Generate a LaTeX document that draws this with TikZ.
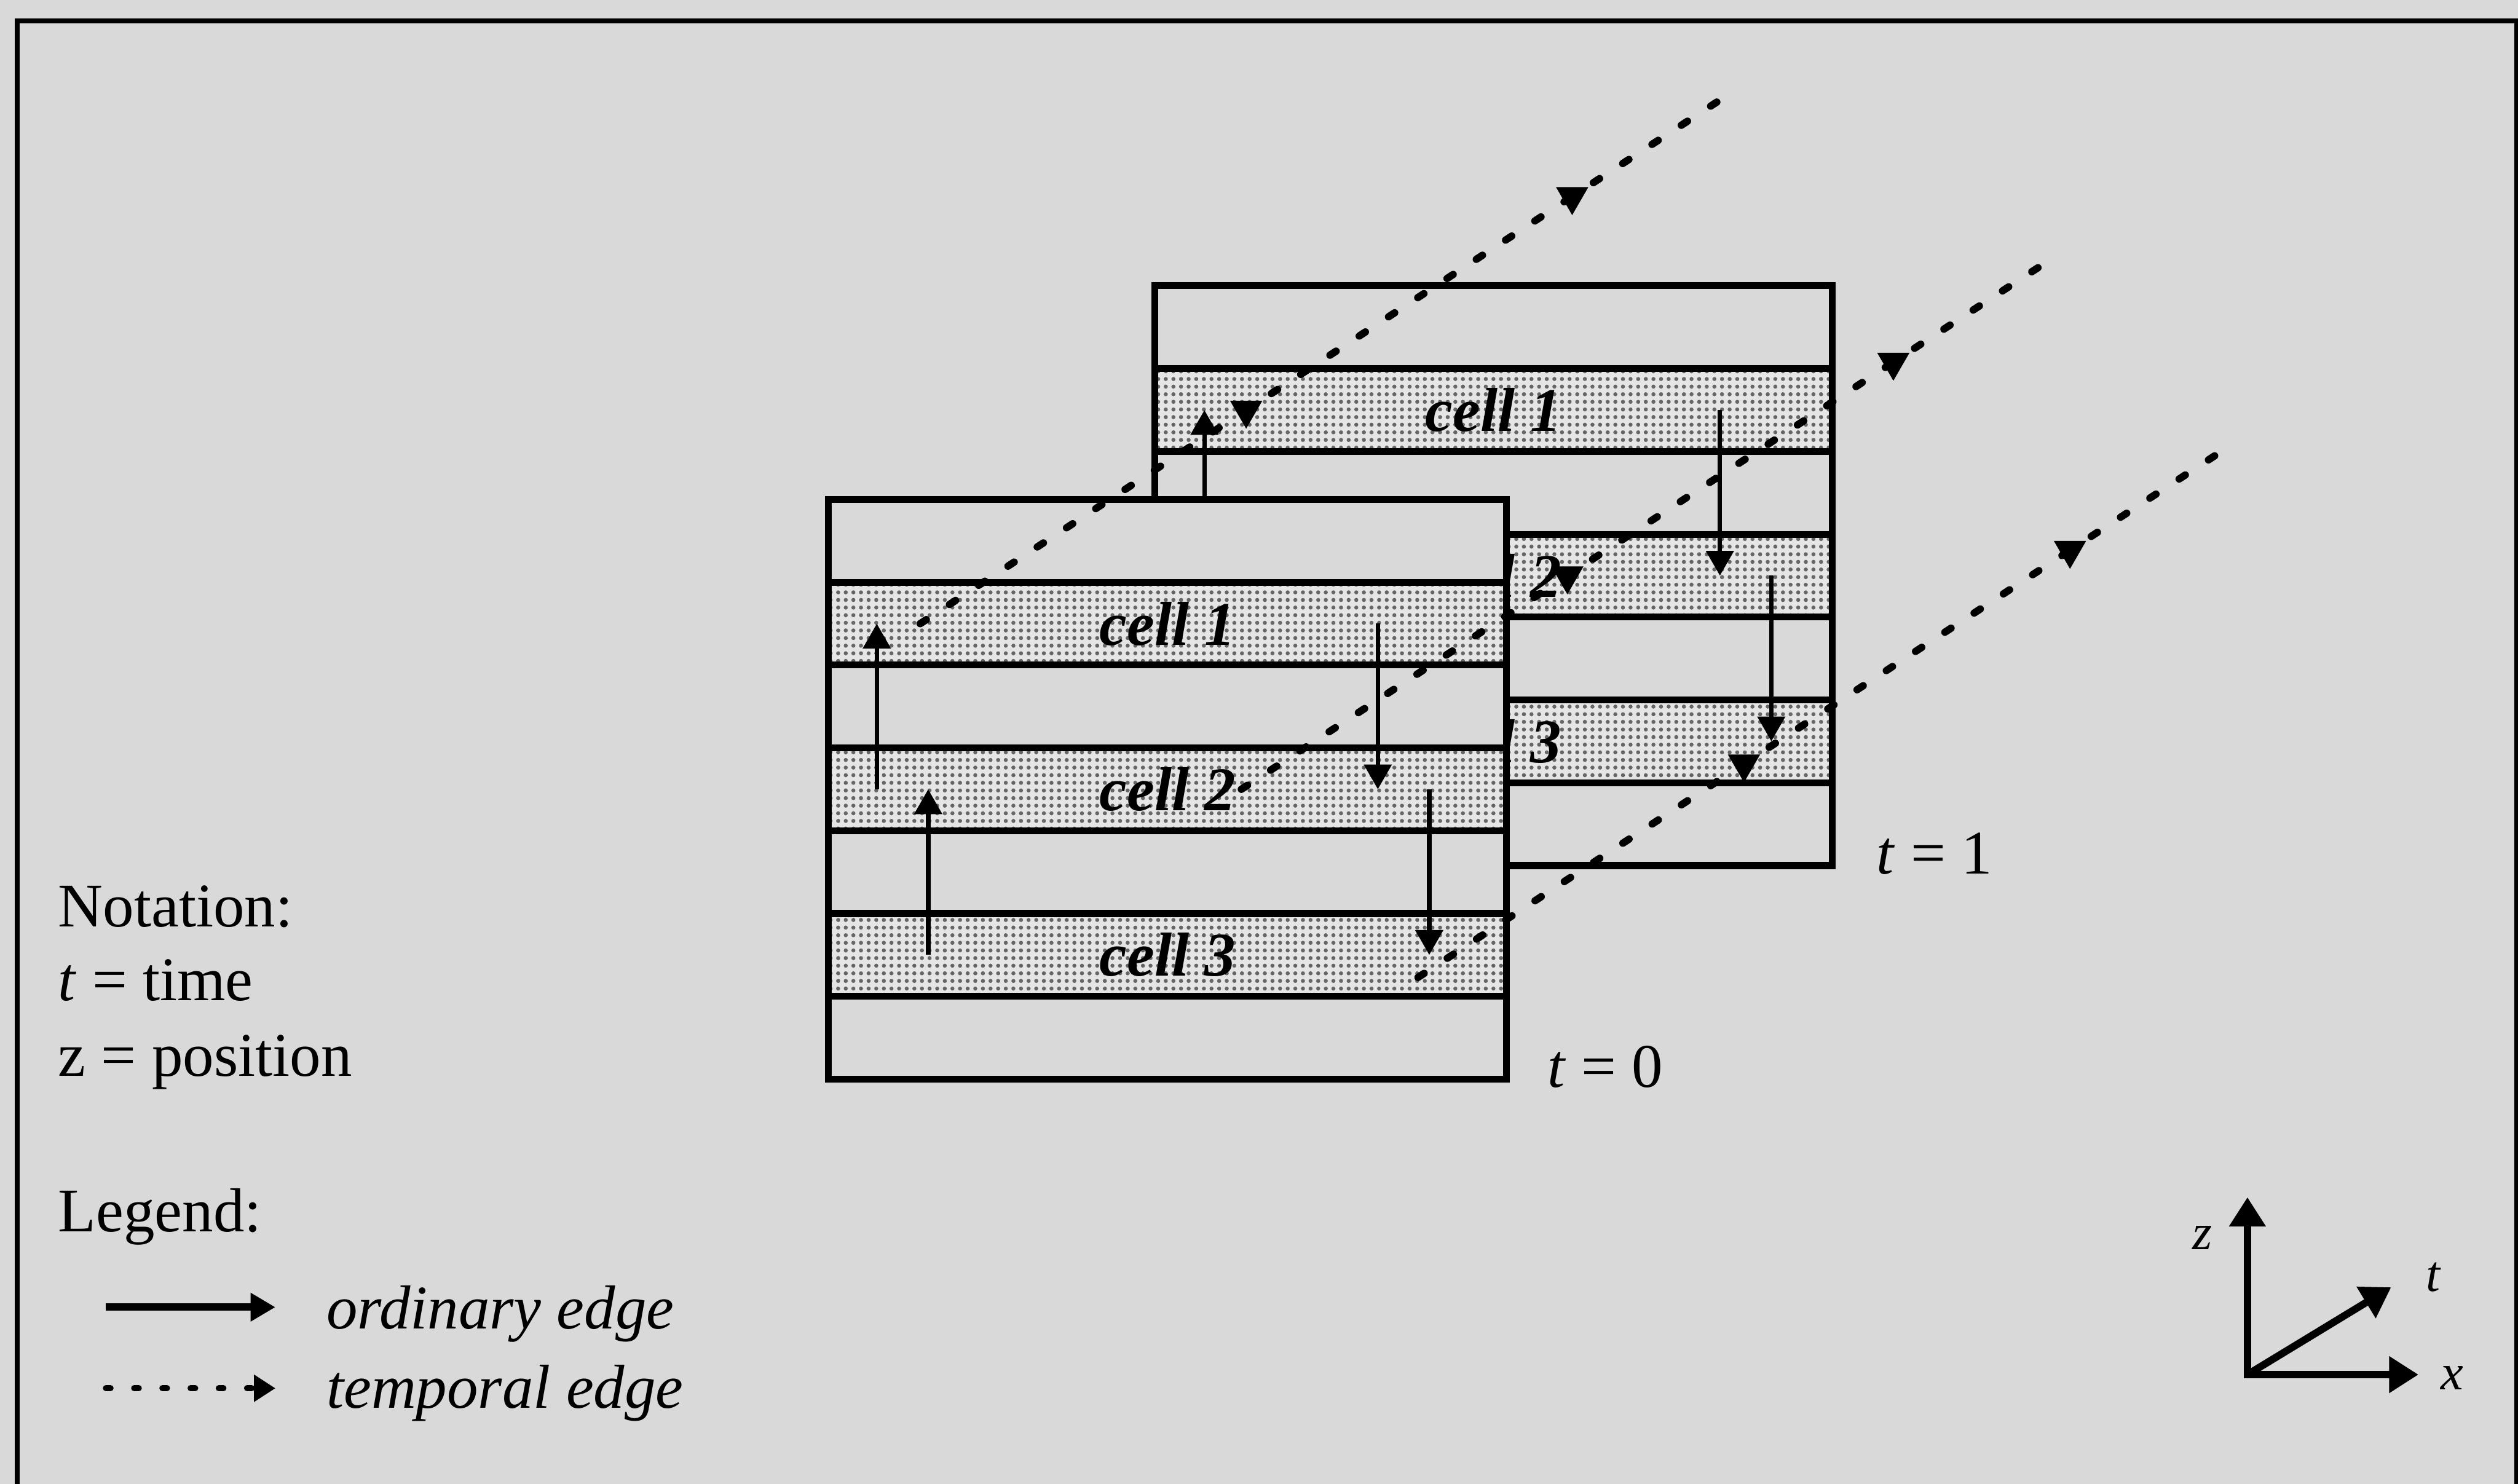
\documentclass[tikz,border=0pt]{standalone}
\usepackage{fontspec}
\setmainfont{Liberation Serif}
\usetikzlibrary{positioning, arrows.meta, shapes.geometric, patterns.meta}

\definecolor{paper}{gray}{0.85}
\definecolor{cellbase}{gray}{0.90}

\begin{document}
\begin{tikzpicture}[
    font=\fontsize{11}{13.2}\selectfont,
    strip/.style={
        rectangle,
        draw,
        line width=1.2pt,
        minimum width=4.22cm,
        minimum height=5.157mm,
        inner sep=0pt,
        outer sep=0pt
    },
    blank/.style={
        strip,
        fill=paper
    },
    cell/.style={
        strip,
        preaction={fill=cellbase},
        pattern={Dots[distance=1.35pt, radius=0.36pt]},
        pattern color=black!60,
        font=\fontsize{11}{13.2}\selectfont\bfseries\itshape
    },
    txt/.style={
        anchor=base west,
        inner sep=0pt
    },
    ordinary/.style={
        -{Triangle[length=4.4pt, width=4.8pt]},
        line width=0.8pt
    },
    temporal/.style={
        line width=1.3pt,
        line cap=round,
        dash pattern=on 1.3pt off 4.9pt
    },
    tmark/.style={
        regular polygon,
        regular polygon sides=3,
        shape border rotate=180,
        fill=black,
        inner sep=0pt,
        minimum size=6.6pt
    },
    axis/.style={
        line width=1.3pt
    },
    axislabel/.style={
        inner sep=0pt,
        font=\fontsize{9}{10}\selectfont\itshape
    }
]

\useasboundingbox (0,0) rectangle (15.68,9.24);
\fill[paper] (0,0) rectangle (15.68,9.24);
\draw[line width=0.85pt] (0.107,-0.5) rectangle (15.67,9.11);

% ------------------------------------------------------------------
% TIME STEP t = 1 (BACK)
% ------------------------------------------------------------------

\node[blank] (top1) at (9.30,7.202) {};
\node[cell, below=0pt of top1] (c1t1) {cell 1};
\node[blank, below=0pt of c1t1] (gapa1) {};
\node[cell, below=0pt of gapa1] (c2t1) {cell 2};
\node[blank, below=0pt of c2t1] (gapb1) {};
\node[cell, below=0pt of gapb1] (c3t1) {cell 3};
\node[blank, below=0pt of c3t1] (bot1) {};

\draw[ordinary] ([xshift=-18.0mm]c2t1.center) -- ([xshift=-18.0mm]c1t1.center);
\draw[ordinary] ([xshift=-14.8mm]c3t1.center) -- ([xshift=-14.8mm]c2t1.center);
\draw[ordinary] ([xshift=14.1mm]c1t1.center) -- ([xshift=14.1mm]c2t1.center);
\draw[ordinary] ([xshift=17.3mm]c2t1.center) -- ([xshift=17.3mm]c3t1.center);

\node[txt] (lbl1) at ([shift={(0.27,-0.05)}]bot1.south east) {\textit{t} = 1};

% ------------------------------------------------------------------
% TIME STEP t = 0 (FRONT)
% ------------------------------------------------------------------

\node[blank] (top0) at (7.27,5.872) {};
\node[cell, below=0pt of top0] (c1t0) {cell 1};
\node[blank, below=0pt of c1t0] (gapa0) {};
\node[cell, below=0pt of gapa0] (c2t0) {cell 2};
\node[blank, below=0pt of c2t0] (gapb0) {};
\node[cell, below=0pt of gapb0] (c3t0) {cell 3};
\node[blank, below=0pt of c3t0] (bot0) {};

\draw[ordinary] ([xshift=-18.1mm]c2t0.center) -- ([xshift=-18.1mm]c1t0.center);
\draw[ordinary] ([xshift=-14.9mm]c3t0.center) -- ([xshift=-14.9mm]c2t0.center);
\draw[ordinary] ([xshift=13.1mm]c1t0.center) -- ([xshift=13.1mm]c2t0.center);
\draw[ordinary] ([xshift=16.3mm]c2t0.center) -- ([xshift=16.3mm]c3t0.center);

\node[txt] (lbl0) at ([shift={(0.25,-0.05)}]bot0.south east) {\textit{t} = 0};

% ------------------------------------------------------------------
% TEMPORAL EDGES
% ------------------------------------------------------------------

\coordinate (c1t2) at ([shift={(2.03,1.33)}]c1t1.center);
\coordinate (c2t2) at ([shift={(2.03,1.33)}]c2t1.center);
\coordinate (c3t2) at ([shift={(2.03,1.33)}]c3t1.center);

\draw[temporal] ([xshift=-15.4mm]c1t0.center) -- ([xshift=-15.4mm]c1t1.center) node[tmark] {}
    -- ([xshift=-15.4mm]c1t2) node[tmark] {} -- ([shift={(-0.59,0.62)}]c1t2);
\draw[temporal] ([xshift=4.6mm]c2t0.center) -- ([xshift=4.6mm]c2t1.center) node[tmark] {}
    -- ([xshift=4.6mm]c2t2) node[tmark] {} -- ([shift={(1.41,0.62)}]c2t2);
\draw[temporal] ([shift={(1.56,-0.14)}]c3t0.center) -- ([shift={(1.56,-0.14)}]c3t1.center) node[tmark] {}
    -- ([shift={(1.56,-0.14)}]c3t2) node[tmark] {} -- ([shift={(2.51,0.48)}]c3t2);

% ------------------------------------------------------------------
% NOTATION AND LEGEND
% ------------------------------------------------------------------

\node[txt] (notation) at (0.356,3.47) {Notation:};
\node[txt] (tdef) at (0.356,3.01) {\textit{t} = time};
\node[txt] (zdef) at (0.356,2.54) {z = position};
\node[txt] (legend) at (0.356,1.57) {Legend:};

\coordinate (ordA) at (0.66,1.10);
\coordinate (ordB) at (1.715,1.10);
\coordinate (tmpA) at (0.66,0.595);
\coordinate (tmpB) at (1.715,0.595);

\draw[ordinary, line width=1.3pt] (ordA) -- (ordB);
\draw[temporal, line width=1.1pt, dash pattern=on 0.8pt off 4.2pt,
      -{Triangle[length=3.8pt, width=4.6pt]}] (tmpA) -- (tmpB);

\node[txt, font=\fontsize{11}{13.2}\selectfont\itshape] (ordtext) at (2.026,0.965) {ordinary edge};
\node[txt, font=\fontsize{11}{13.2}\selectfont\itshape] (tmptext) at (2.026,0.47) {temporal edge};

% ------------------------------------------------------------------
% AXES
% ------------------------------------------------------------------

\coordinate (origin) at (13.995,0.68);
\coordinate (zend) at (13.995,1.785);
\coordinate (xend) at (15.06,0.68);
\coordinate (tend) at (14.89,1.224);

\draw[axis, {Triangle[length=5.2pt, width=6.2pt]}-{Triangle[length=5.2pt, width=6.2pt]}]
    (zend) -- (origin) -- (xend);
\draw[axis, -{Triangle[length=5.2pt, width=6.2pt]}] (origin) -- (tend);

\node[axislabel] (zlbl) at (13.715,1.53) {z};
\node[axislabel] (tlbl) at (15.15,1.285) {t};
\node[axislabel] (xlbl) at (15.27,0.66) {x};

\end{tikzpicture}
\end{document}
